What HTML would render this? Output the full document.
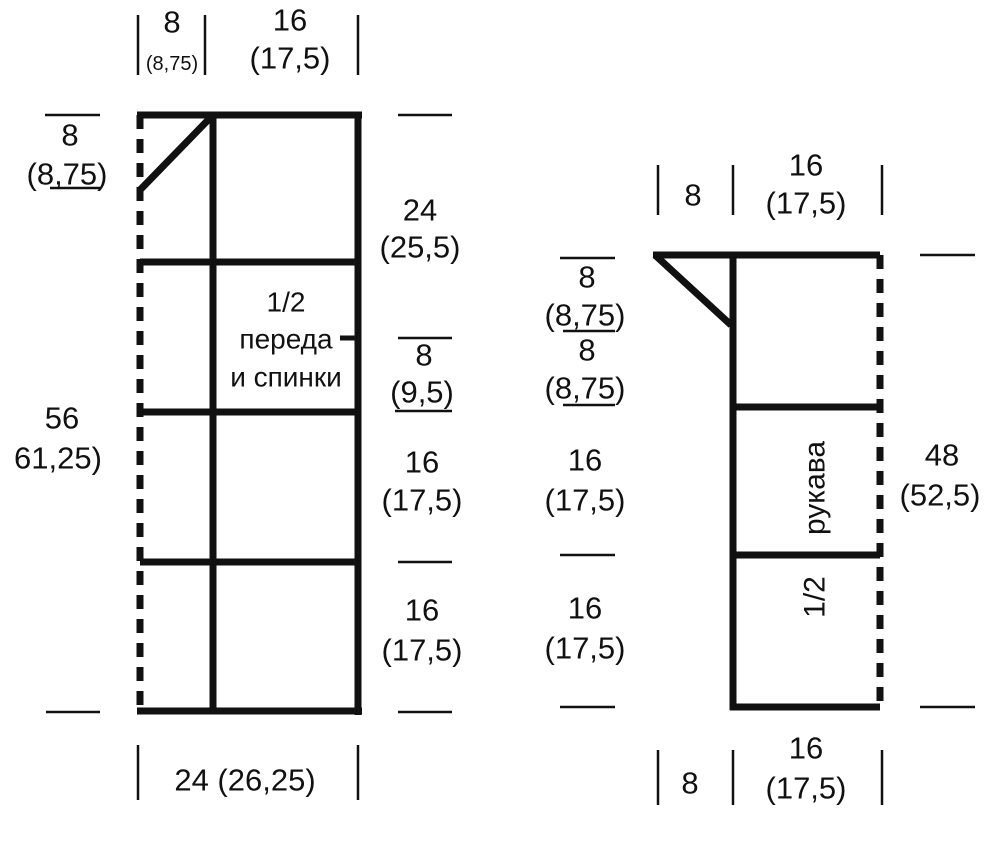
<!DOCTYPE html>
<html><head><meta charset="utf-8"><style>
html,body{margin:0;padding:0;background:#fff}
svg text{font-family:"Liberation Sans Narrow","Liberation Sans",sans-serif;font-size:31px;fill:#111;text-anchor:middle;dominant-baseline:central}
</style></head><body>
<svg width="988" height="837" viewBox="0 0 988 837" xmlns="http://www.w3.org/2000/svg">
<g stroke="#111" stroke-width="7" fill="none">
<line x1="137" y1="115" x2="362" y2="115"/>
<line x1="358" y1="115" x2="358" y2="715"/>
<line x1="137" y1="711" x2="362" y2="711"/>
<line x1="213" y1="115" x2="213" y2="711"/>
<line x1="140" y1="262" x2="358" y2="262"/>
<line x1="140" y1="412" x2="358" y2="412"/>
<line x1="140" y1="562" x2="358" y2="562"/>
<line x1="140" y1="115" x2="140" y2="711" stroke-dasharray="14,10"/>
<line x1="140" y1="190" x2="210" y2="118"/>
<line x1="653" y1="255" x2="880" y2="255"/>
<line x1="733" y1="255" x2="733" y2="710"/>
<line x1="730" y1="707" x2="880" y2="707"/>
<line x1="733" y1="407" x2="880" y2="407"/>
<line x1="733" y1="555" x2="880" y2="555"/>
<line x1="880" y1="255" x2="880" y2="707" stroke-dasharray="14,10"/>
<line x1="655" y1="255" x2="731" y2="325"/>
</g>
<rect x="218" y="283" width="136" height="118" fill="#fff"/>
<line x1="340" y1="338" x2="355" y2="338" stroke="#111" stroke-width="5"/>
<g stroke="#111" stroke-width="2.5">
<line x1="138" y1="15" x2="138" y2="75"/><line x1="205" y1="15" x2="205" y2="75"/><line x1="358" y1="15" x2="358" y2="75"/>
<line x1="45" y1="115" x2="100" y2="115"/>
<line x1="50" y1="188" x2="100" y2="188"/>
<line x1="398" y1="115" x2="452" y2="115"/>
<line x1="398" y1="338" x2="452" y2="338"/>
<line x1="395" y1="411" x2="452" y2="411"/>
<line x1="398" y1="562" x2="452" y2="562"/>
<line x1="398" y1="712" x2="452" y2="712"/>
<line x1="46" y1="712" x2="100" y2="712"/>
<line x1="138" y1="745" x2="138" y2="800"/><line x1="358" y1="745" x2="358" y2="800"/>
<line x1="658" y1="165" x2="658" y2="215"/><line x1="733" y1="165" x2="733" y2="215"/><line x1="882" y1="165" x2="882" y2="215"/>
<line x1="920" y1="255" x2="975" y2="255"/>
<line x1="920" y1="707" x2="975" y2="707"/>
<line x1="560" y1="258" x2="615" y2="258"/>
<line x1="563" y1="331" x2="615" y2="331"/>
<line x1="563" y1="405" x2="615" y2="405"/>
<line x1="560" y1="555" x2="615" y2="555"/>
<line x1="560" y1="707" x2="615" y2="707"/>
<line x1="658" y1="750" x2="658" y2="805"/><line x1="733" y1="750" x2="733" y2="805"/><line x1="882" y1="750" x2="882" y2="805"/>
</g>
<text x="172" y="22">8</text>
<text x="172" y="64" style="font-size:20px">(8,75)</text>
<text x="290" y="20">16</text>
<text x="290" y="58">(17,5)</text>
<text x="70" y="135">8</text>
<text x="67" y="174">(8,75)</text>
<text x="286" y="302" style="font-size:28px">1/2</text>
<text x="286" y="339" style="font-size:28px">переда</text>
<text x="286" y="377" style="font-size:28px">и спинки</text>
<text x="420" y="210">24</text>
<text x="420" y="247">(25,5)</text>
<text x="424" y="355">8</text>
<text x="422" y="392">(9,5)</text>
<text x="62" y="418">56</text>
<text x="58" y="458">61,25)</text>
<text x="422" y="462">16</text>
<text x="422" y="500">(17,5)</text>
<text x="422" y="610">16</text>
<text x="422" y="650">(17,5)</text>
<text x="245" y="780">24  (26,25)</text>
<text x="693" y="195">8</text>
<text x="806" y="165">16</text>
<text x="806" y="203">(17,5)</text>
<text x="587" y="277">8</text>
<text x="585" y="315">(8,75)</text>
<text x="587" y="350">8</text>
<text x="585" y="388">(8,75)</text>
<text x="585" y="460">16</text>
<text x="585" y="500">(17,5)</text>
<text x="585" y="608">16</text>
<text x="585" y="648">(17,5)</text>
<text x="942" y="455">48</text>
<text x="940" y="495">(52,5)</text>
<text transform="translate(815,488) rotate(-90)" style="font-size:30px">рукава</text>
<text transform="translate(815,597) rotate(-90)" style="font-size:30px">1/2</text>
<text x="690" y="783">8</text>
<text x="806" y="748">16</text>
<text x="806" y="788">(17,5)</text>
</svg>
</body></html>
